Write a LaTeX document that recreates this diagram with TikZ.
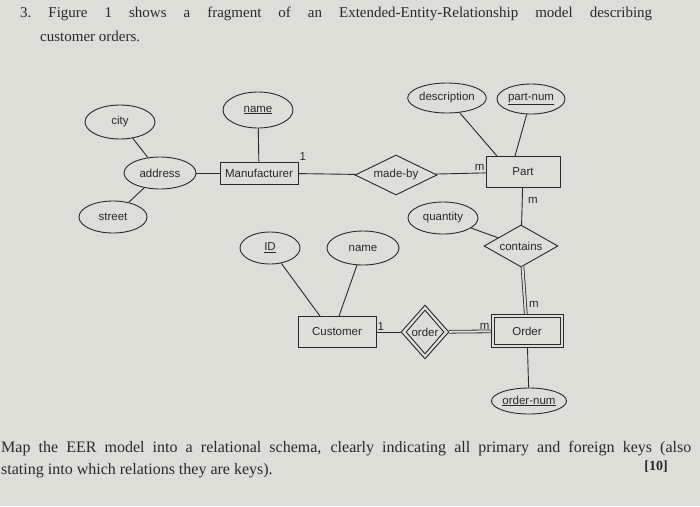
\documentclass[tikz,border=0pt]{standalone}
\usepackage{fontspec}
\setmainfont{Liberation Serif}
\newfontfamily\dia{Liberation Sans}
\usetikzlibrary{shapes.geometric}
\definecolor{paper}{RGB}{222,222,216}
\definecolor{ink}{RGB}{40,40,45}
\begin{document}
\begin{tikzpicture}[x=1pt,y=-1pt,
  every node/.style={text=ink},
  line/.style={draw=ink,line width=0.9pt},
  attr/.style={ellipse,draw=ink,line width=0.9pt,inner sep=0pt,font=\dia\fontsize{11.5}{13}\selectfont},
  ent/.style={rectangle,draw=ink,line width=0.9pt,inner sep=0pt,font=\dia\fontsize{11.5}{13}\selectfont},
  rel/.style={diamond,draw=ink,line width=0.9pt,inner sep=0pt,aspect=2,font=\dia\fontsize{11.5}{13}\selectfont},
  dbl/.style={draw=ink,line width=0.8pt,double=paper,double distance=2pt},
  lab/.style={font=\dia\fontsize{11.5}{13}\selectfont,inner sep=1pt}]
\fill[paper] (0,0) rectangle (700,506);
\clip (0,0) rectangle (700,506);
\useasboundingbox (0,0) rectangle (700,506);
% text
\node[anchor=west,inner sep=0,font=\fontsize{15}{18}\selectfont] (t1) at (20,14) {\makebox[632pt][s]{3.\ \ Figure\ \ 1\ \ shows\ \ a\ \ fragment\ \ of\ \ an\ \ Extended-Entity-Relationship\ \ model\ \ describing}};
\node[anchor=west,inner sep=0,font=\fontsize{15}{18}\selectfont] (t2) at (40,36) {customer orders.};
\node[anchor=west,inner sep=0,font=\fontsize{16}{19}\selectfont] (t3) at (1,449) {\makebox[690pt][s]{Map the EER model into a relational schema, clearly indicating all primary and foreign keys (also}};
\node[anchor=west,inner sep=0,font=\fontsize{16}{19}\selectfont] (t4) at (1,471) {stating into which relations they are keys).};
\node[anchor=east,inner sep=0,font=\fontsize{14}{16}\selectfont\bfseries] (t5) at (668,467) {[10]};
% nodes
\node[attr,minimum width=70pt,minimum height=34pt] (city) at (120,122) {city};
\node[attr,minimum width=72pt,minimum height=32pt] (address) at (160,173) {address};
\node[attr,minimum width=68pt,minimum height=32pt] (street) at (113,217) {street};
\node[attr,minimum width=70pt,minimum height=36pt] (mname) at (258,110) {\underline{name}};
\node[ent,minimum width=78pt,minimum height=22pt] (man) at (259,173) {Manufacturer};
\node[rel,minimum width=82pt,minimum height=40pt] (madeby) at (396,175) {made-by};
\node[ent,minimum width=74pt,minimum height=31pt] (part) at (523,172) {Part};
\node[attr,minimum width=72pt,minimum height=30pt] (desc) at (447,98) {description};
\node[attr,minimum width=68pt,minimum height=30pt] (pnum) at (531,99) {\underline{part-num}};
\node[attr,minimum width=70pt,minimum height=32pt] (qty) at (443,218) {quantity};
\node[rel,minimum width=74pt,minimum height=42pt] (contains) at (521,246) {contains};
\node[attr,minimum width=60pt,minimum height=32pt] (id) at (270,248) {\underline{ID}};
\node[attr,minimum width=72pt,minimum height=34pt] (cname) at (363,248) {name};
\node[ent,minimum width=78pt,minimum height=31pt] (cust) at (337,332) {Customer};
\node[rel,aspect=0.9,minimum width=48pt,minimum height=54pt] (order) at (425,332) {};
\node[rel,aspect=0.9,minimum width=38pt,minimum height=44pt] (orderin) at (425,332) {order};
\node[ent,minimum width=72pt,minimum height=33pt] (ord) at (527,331) {};
\node[ent,minimum width=66pt,minimum height=27pt] (ordin) at (527,331) {Order};
\node[attr,minimum width=70pt,minimum height=26pt] (onum) at (529,401) {\underline{order-num}};
% connectors
\draw[line] (city) -- (address);
\draw[line] (street) -- (address);
\draw[line] (address) -- (man);
\draw[line] (mname) -- (man);
\draw[line] (man) -- (madeby);
\draw[line] (madeby) -- (part);
\draw[line] (desc) -- (part.north west -| 497,0);
\draw[line] (pnum) -- (part.north -| 515,0);
\draw[line] (part) -- (contains);
\draw[line] (qty) -- (contains);
\draw[dbl] (contains) -- (ord);
\draw[line] (id) -- (cust.north -| 320,0);
\draw[line] (cname) -- (cust.north -| 339,0);
\draw[line] (cust) -- (order);
\draw[dbl] (order) -- (ord);
\draw[line] (ord) -- (onum);
% labels
\node[lab,anchor=south west] (l1) at (man.north east) {1};
\node[lab,anchor=south east] (l2) at (part.west) {m};
\node[lab] (l3) at (533,200) {m};
\node[lab] (l4) at (534,304) {m};
\node[lab,anchor=south west] (l5) at (cust.east) {1};
\node[lab,anchor=south east] (l6) at (ord.west) {m};
\end{tikzpicture}
\end{document}
